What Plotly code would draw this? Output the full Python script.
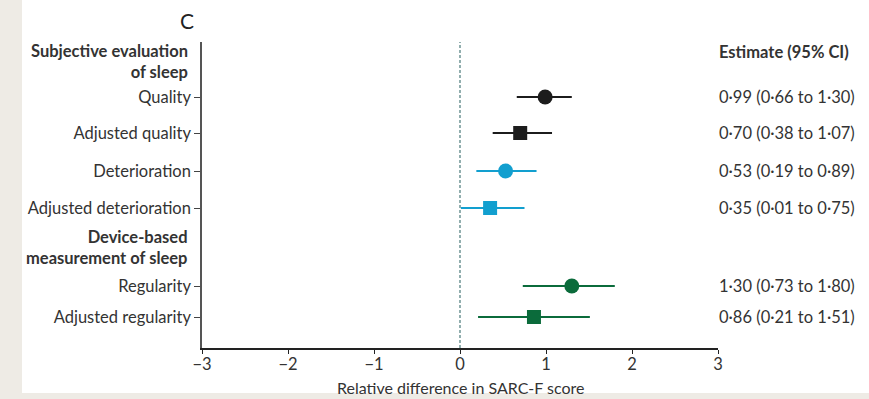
import plotly.graph_objects as go

# Forest plot data: relative difference in SARC-F score (95% CI)
rows = ["Quality", "Adjusted quality", "Deterioration", "Adjusted deterioration",
        "Regularity", "Adjusted regularity"]
estimate = [0.99, 0.70, 0.53, 0.35, 1.30, 0.86]
ci_low = [0.66, 0.38, 0.19, 0.01, 0.73, 0.21]
ci_high = [1.30, 1.07, 0.89, 0.75, 1.80, 1.51]
groups = ["Subjective evaluation<br>of sleep", "Device-based<br>measurement of sleep"]
x_ticks = [-3, -2, -1, 0, 1, 2, 3]

# Layout helpers (vertical positions in pixels below the top of the plot area)
row_y = [55, 91, 129, 166, 244, 275]
group_y = [19, 205]
symbols = ["circle", "square", "circle", "square", "circle", "square"]
colors = ["#1c1c1c", "#1c1c1c", "#129fcf", "#129fcf", "#0b6b3b", "#0b6b3b"]

W, H = 869, 399
L, R, T, B = 202, 718, 42, 348
PW, PH = R - L, B - T


def px(xp):
    return (xp - L) / PW


def py(yp):
    return (B - yp) / PH


def fmt(v):
    return f"{v:.2f}".replace(".", "·")


FONT = "Lato"
TXT = "#333333"
FS = 16.5

fig = go.Figure()

for name, est, lo, hi, yv, sym, col in zip(rows, estimate, ci_low, ci_high, row_y, symbols, colors):
    fig.add_trace(go.Scatter(
        x=[lo, hi], y=[yv, yv], mode="lines",
        line=dict(color=col, width=2), hoverinfo="skip", showlegend=False))
    fig.add_trace(go.Scatter(
        x=[est], y=[yv], mode="markers", name=name,
        marker=dict(symbol=sym, size=15 if sym == "circle" else 14, color=col,
                    line=dict(width=0)),
        showlegend=False))

annotations = []
# Group headers
for g, gy in zip(groups, group_y):
    annotations.append(dict(
        x=px(190), xref="paper", y=gy, yref="y", text=f"<b>{g}</b>",
        showarrow=False, xanchor="right", yanchor="middle", align="right",
        font=dict(family=FONT, size=FS, color=TXT)))
# Estimate column
annotations.append(dict(
    x=px(717), xref="paper", y=py(52), yref="paper", text="<b>Estimate (95% CI)</b>",
    showarrow=False, xanchor="left", yanchor="middle",
    font=dict(family=FONT, size=FS, color=TXT)))
for est, lo, hi, yv in zip(estimate, ci_low, ci_high, row_y):
    annotations.append(dict(
        x=px(717), xref="paper", y=yv, yref="y",
        text=f"{fmt(est)} ({fmt(lo)} to {fmt(hi)})",
        showarrow=False, xanchor="left", yanchor="middle",
        font=dict(family=FONT, size=FS, color=TXT)))
# Panel letter
annotations.append(dict(
    x=px(187), xref="paper", y=py(20), yref="paper", text="C",
    showarrow=False, xanchor="center", yanchor="middle",
    font=dict(family=FONT, size=21, color="#222222")))
# Axis title
annotations.append(dict(
    x=0.5, xref="paper", y=py(387), yref="paper",
    text="Relative difference in SARC-F score",
    showarrow=False, xanchor="center", yanchor="middle",
    font=dict(family=FONT, size=16, color=TXT)))

shapes = [
    # white panel on beige page
    dict(type="rect", xref="paper", yref="paper", x0=px(22), x1=px(W + 5),
         y0=py(393), y1=py(-5), fillcolor="white", line=dict(width=0), layer="below"),
    # reference line at zero
    dict(type="line", xref="x", yref="paper", x0=0, x1=0, y0=0, y1=1,
         line=dict(color="#6e9494", width=1.5, dash="3px,2px"), layer="below"),
]

fig.update_layout(
    width=W, height=H,
    margin=dict(l=L, r=W - R, t=T, b=H - B),
    paper_bgcolor="#eeebe5", plot_bgcolor="rgba(0,0,0,0)",
    font=dict(family=FONT, size=FS, color=TXT),
    annotations=annotations, shapes=shapes,
    xaxis=dict(range=[-3, 3], tickvals=x_ticks, showgrid=False, zeroline=False,
               showline=True, linecolor="#222222", linewidth=1.5,
               ticks="outside", ticklen=4, tickcolor="#222222", tickwidth=1.2,
               ticklabelstandoff=-4,
               tickfont=dict(family=FONT, size=FS, color=TXT)),
    yaxis=dict(range=[PH, 0], tickvals=row_y, ticktext=rows, showgrid=False,
               zeroline=False, showline=True, linecolor="#555555", linewidth=1.5,
               ticks="outside", ticklen=6, tickcolor="#444444", tickwidth=1.2,
               tickfont=dict(family=FONT, size=FS, color=TXT)),
)

fig.write_html("out.html")
